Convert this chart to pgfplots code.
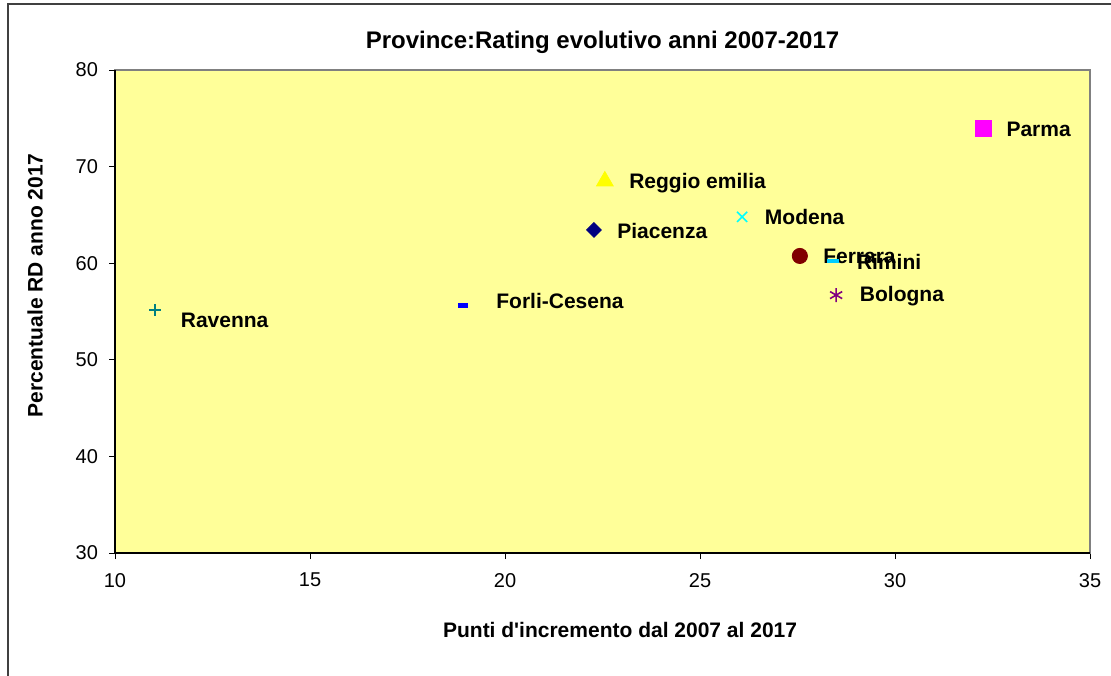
\documentclass[border=0pt]{standalone}
\usepackage{fontspec}
\setmainfont{Liberation Sans}
\usepackage{pgfplots}
\pgfplotsset{compat=1.18}
\definecolor{plotbg}{RGB}{255,255,153}
\definecolor{cRav}{RGB}{0,128,128}
\definecolor{cFor}{RGB}{0,0,255}
\definecolor{cReg}{RGB}{255,255,0}
\definecolor{cPia}{RGB}{0,0,128}
\definecolor{cMod}{RGB}{0,255,255}
\definecolor{cFer}{RGB}{128,0,0}
\definecolor{cRim}{RGB}{0,204,255}
\definecolor{cBol}{RGB}{128,0,128}
\definecolor{cPar}{RGB}{255,0,255}
\pgfplotsset{
  lbl/.style 2 args={nodes near coords={\bfseries #1},
    every node near coord/.append style={anchor=west, inner sep=0pt,
      font=\fontsize{10.5}{12}\selectfont, text=black, xshift=#2}},
}
\begin{document}
\begin{tikzpicture}
\path[use as bounding box] (0pt,0pt) rectangle (555.5pt,337.5pt);
\draw[line width=1pt, black!75] (4pt,-5pt) -- (4pt,335.5pt) -- (560pt,335.5pt);
\begin{axis}[
  at={(57.5pt,61pt)}, anchor=south west,
  scale only axis, width=487.5pt, height=241.5pt,
  xmin=10, xmax=35, ymin=30, ymax=80,
  xtick={10,15,20,25,30,35}, ytick={30,40,50,60,70,80},
  axis background/.style={fill=plotbg},
  axis line style={draw=gray, line width=1pt},
  tick align=outside, xtick pos=bottom, ytick pos=left,
  major tick length=3pt,
  tick style={black, line width=0.5pt},
  ticklabel style={font=\fontsize{10}{12}\selectfont},
  xticklabel style={yshift=-3.5pt},
  yticklabel style={xshift=-2pt},
  /pgf/number format/assume math mode=true,
  title={\bfseries Province:Rating evolutivo anni 2007-2017},
  title style={at={(axis description cs:0.5,1.033)}, anchor=center, font=\fontsize{12}{14}\selectfont},
  xlabel={\bfseries Punti d\textquotesingle incremento dal 2007 al 2017},
  xlabel style={at={(axis description cs:0.518,-0.159)}, anchor=center, font=\fontsize{10.5}{12}\selectfont},
  ylabel={\bfseries Percentuale RD anno 2017},
  ylabel style={at={(axis description cs:-0.082,0.554)}, anchor=center, font=\fontsize{10.5}{12}\selectfont},
  clip=false,
]
% Ravenna
\addplot[only marks, mark=+, mark size=3pt, color=cRav, line width=0.7pt,
  lbl={Ravenna}{12.5pt}, every node near coord/.append style={yshift=-5pt}] coordinates {(11.03,55.16)};
% Forli-Cesena
\addplot[only marks, mark=-, mark size=2.5pt, color=cFor, line width=2.5pt,
  lbl={Forli-Cesena}{15.5pt}, every node near coord/.append style={yshift=2pt}] coordinates {(18.92,55.67)};
% Reggio emilia
\addplot[only marks, mark=triangle*, mark size=4.8pt, color=cReg,
  lbl={Reggio emilia}{12pt}, every node near coord/.append style={yshift=-1pt}] coordinates {(22.56,68.5)};
% Piacenza
\addplot[only marks, mark=square*, mark size=2.6pt, mark options={rotate=45}, color=cPia,
  lbl={Piacenza}{11.5pt}, every node near coord/.append style={yshift=-0.5pt}] coordinates {(22.28,63.44)};
% Modena
\addplot[only marks, mark=x, mark size=3.6pt, color=cMod, line width=0.8pt,
  lbl={Modena}{11pt}] coordinates {(26.08,64.8)};
% Ferrara
\addplot[only marks, mark=*, mark size=3.8pt, color=cFer,
  lbl={Ferrara}{11.5pt}] coordinates {(27.56,60.75)};
% Rimini
\addplot[only marks, mark=-, mark size=3pt, color=cRim, line width=2pt,
  lbl={Rimini}{11pt}, every node near coord/.append style={yshift=-0.5pt}] coordinates {(28.41,60.2)};
% Bologna
\addplot[only marks, mark=asterisk, mark size=3.5pt, color=cBol, line width=0.8pt,
  lbl={Bologna}{11.5pt}, every node near coord/.append style={yshift=-0.5pt}] coordinates {(28.49,56.7)};
% Parma
\addplot[only marks, mark=square*, mark size=4pt, color=cPar,
  lbl={Parma}{11.5pt}, every node near coord/.append style={yshift=-0.5pt}] coordinates {(32.26,74.0)};
\draw[black, line width=0.6pt] (rel axis cs:0,1) -- (rel axis cs:0,0) -- (rel axis cs:1,0);
\end{axis}
\end{tikzpicture}
\end{document}
